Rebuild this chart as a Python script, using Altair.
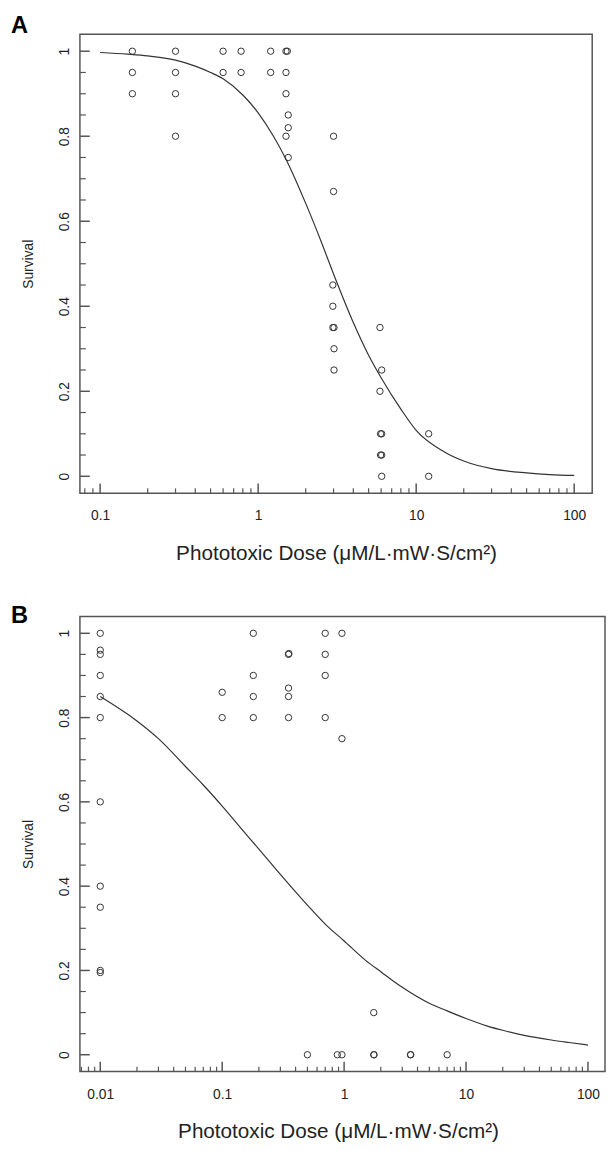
import altair as alt
import pandas as pd

FONT = "Liberation Sans"
INK = "#222222"
BOX = "#555555"

# ---------------- Panel A : observations ----------------
a_dose = [0.16, 0.16, 0.16,
          0.3, 0.3, 0.3, 0.3,
          0.6, 0.6,
          0.78, 0.78,
          1.2, 1.2,
          1.5, 1.53, 1.5, 1.5, 1.55, 1.55, 1.5, 1.55,
          3.0, 3.0, 2.97, 2.97, 2.97, 3.02, 3.02, 3.02,
          5.9, 6.05, 5.9, 5.95, 6.05, 5.95, 6.05, 6.05,
          12.0, 12.0]
a_surv = [1.0, 0.95, 0.9,
          1.0, 0.95, 0.9, 0.8,
          1.0, 0.95,
          1.0, 0.95,
          1.0, 0.95,
          1.0, 1.0, 0.95, 0.9, 0.85, 0.82, 0.8, 0.75,
          0.8, 0.67, 0.45, 0.4, 0.35, 0.35, 0.3, 0.25,
          0.35, 0.25, 0.2, 0.1, 0.1, 0.05, 0.05, 0.0,
          0.1, 0.0]

# Panel A : fitted curve
a_curve_dose = [0.1, 0.15, 0.2, 0.3, 0.4, 0.5, 0.6, 0.8, 1.0, 1.25, 1.5, 2.0,
                2.5, 3.0, 4.0, 5.0, 6.0, 8.0, 10, 15, 20, 30, 50, 70, 100]
a_curve_surv = [0.997, 0.993, 0.989, 0.979, 0.965, 0.95, 0.935, 0.897, 0.855, 0.80,
                0.746, 0.642, 0.553, 0.476, 0.362, 0.285, 0.232, 0.158, 0.108,
                0.058, 0.036, 0.018, 0.008, 0.004, 0.002]

# ---------------- Panel B : observations ----------------
b_dose = [0.01, 0.01, 0.01, 0.01, 0.01, 0.01, 0.01, 0.01, 0.01, 0.01, 0.01,
          0.1, 0.1,
          0.18, 0.18, 0.18, 0.18,
          0.35, 0.352, 0.35, 0.35, 0.35,
          0.7, 0.7, 0.7, 0.7,
          0.96, 0.96,
          0.5, 0.88, 0.96, 1.75, 1.76, 1.75, 3.5, 3.52, 7.0]
b_surv = [1.0, 0.96, 0.95, 0.9, 0.85, 0.8, 0.6, 0.4, 0.35, 0.2, 0.195,
          0.86, 0.8,
          1.0, 0.9, 0.85, 0.8,
          0.95, 0.952, 0.87, 0.85, 0.8,
          1.0, 0.95, 0.9, 0.8,
          1.0, 0.75,
          0.0, 0.0, 0.0, 0.0, 0.0, 0.1, 0.0, 0.0, 0.0]

# Panel B : fitted curve
b_curve_dose = [0.01, 0.02, 0.03, 0.05, 0.07, 0.1, 0.15, 0.2, 0.3, 0.5, 0.7, 1.0,
                1.5, 2.0, 3.0, 5.0, 7.0, 10, 15, 20, 30, 50, 70, 100]
b_curve_surv = [0.85, 0.792, 0.75, 0.684, 0.64, 0.59, 0.53, 0.488, 0.428, 0.355,
                0.31, 0.27, 0.224, 0.197, 0.16, 0.122, 0.104, 0.086, 0.068,
                0.058, 0.046, 0.035, 0.029, 0.023]

# ---------------- axis ticks ----------------
y_major = [0, 0.2, 0.4, 0.6, 0.8, 1]
y_minor = [0.05, 0.1, 0.15, 0.25, 0.3, 0.35, 0.45, 0.5, 0.55, 0.65, 0.7, 0.75,
           0.85, 0.9, 0.95]
a_x_major = [0.1, 1, 10, 100]
a_x_minor = [0.08, 0.09, 0.2, 0.3, 0.4, 0.5, 0.6, 0.7, 0.8, 0.9,
             2, 3, 4, 5, 6, 7, 8, 9, 20, 30, 40, 50, 60, 70, 80, 90]
b_x_major = [0.01, 0.1, 1, 10, 100]
b_x_minor = [0.007, 0.008, 0.009, 0.02, 0.03, 0.04, 0.05, 0.06, 0.07, 0.08, 0.09,
             0.2, 0.3, 0.4, 0.5, 0.6, 0.7, 0.8, 0.9,
             2, 3, 4, 5, 6, 7, 8, 9, 20, 30, 40, 50, 60, 70, 80, 90]

X_TITLE = "Phototoxic Dose (\u03bcM/L\u00b7mW\u00b7S/cm\u00b2)"


def panel(label, dose, surv, cdose, csurv, xdomain, xmajor, xminor,
          width, height, label_y, title_x):
    pts = pd.DataFrame({"dose": dose, "surv": surv})
    crv = pd.DataFrame({"dose": cdose, "surv": csurv})
    xs = alt.Scale(type="log", domain=xdomain, nice=False, zero=False)
    ys = alt.Scale(domain=[-0.04, 1.04], nice=False, zero=False)

    xaxis = alt.Axis(values=xmajor, format="~g", ticks=False, tickSize=0,
                     domain=False, grid=False, labelFont=FONT, labelFontSize=14,
                     labelColor=INK, labelPadding=16, labelFlush=False,
                     title=X_TITLE, titleFont=FONT, titleFontSize=21,
                     titleFontWeight="normal", titleColor=INK, titlePadding=20,
                     titleX=title_x, titleAlign="center")
    yaxis = alt.Axis(values=y_major, format="~g", ticks=False, tickSize=0,
                     domain=False, grid=False, labelFont=FONT, labelFontSize=14,
                     labelColor=INK, labelAngle=270, labelAlign="center",
                     labelBaseline="alphabetic", labelPadding=12,
                     title="Survival", titleFont=FONT, titleFontSize=14,
                     titleFontWeight="normal", titleColor=INK, titlePadding=22)

    points = alt.Chart(pts).mark_point(
        shape="circle", filled=False, size=42, stroke="#333333",
        strokeWidth=1, opacity=1
    ).encode(
        x=alt.X("dose:Q", scale=xs, axis=xaxis),
        y=alt.Y("surv:Q", scale=ys, axis=yaxis),
    )
    curve = alt.Chart(crv).mark_line(
        color="#333333", strokeWidth=1.2, interpolate="monotone"
    ).encode(
        x=alt.X("dose:Q", scale=xs),
        y=alt.Y("surv:Q", scale=ys),
    )

    xmaj = alt.Chart(pd.DataFrame({"v": xmajor})).mark_rule(
        color=BOX, strokeWidth=1.5).encode(
        x=alt.X("v:Q", scale=xs), y=alt.value(height), y2=alt.value(height - 10))
    xmin = alt.Chart(pd.DataFrame({"v": xminor})).mark_rule(
        color=BOX, strokeWidth=1.2).encode(
        x=alt.X("v:Q", scale=xs), y=alt.value(height), y2=alt.value(height - 5))
    ymaj = alt.Chart(pd.DataFrame({"v": y_major})).mark_rule(
        color=BOX, strokeWidth=1.5).encode(
        y=alt.Y("v:Q", scale=ys), x=alt.value(0), x2=alt.value(10))
    ymin = alt.Chart(pd.DataFrame({"v": y_minor})).mark_rule(
        color=BOX, strokeWidth=1.2).encode(
        y=alt.Y("v:Q", scale=ys), x=alt.value(0), x2=alt.value(6))

    tag = alt.Chart(pd.DataFrame({"t": [label]})).mark_text(
        font=FONT, fontSize=24, fontWeight="bold", align="left",
        baseline="alphabetic", color="black"
    ).encode(text="t:N", x=alt.value(-70), y=alt.value(label_y))

    return alt.layer(points, curve, xmaj, xmin, ymaj, ymin, tag).properties(
        width=width, height=height)


panel_a = panel("A", a_dose, a_surv, a_curve_dose, a_curve_surv,
                [0.0745, 130.0], a_x_major, a_x_minor, 520, 466, -1, 260)
panel_b = panel("B", b_dose, b_surv, b_curve_dose, b_curve_surv,
                [0.00681, 138.0], b_x_major, b_x_minor, 533, 462, 7, 262)

chart = alt.vconcat(panel_a, panel_b, spacing=40).properties(
    padding={"left": 2, "top": -3, "right": 0, "bottom": 0}
).configure_view(
    stroke=BOX, strokeWidth=1.5
)

chart.save("out.html", embed_options={"renderer": "svg", "actions": False})
